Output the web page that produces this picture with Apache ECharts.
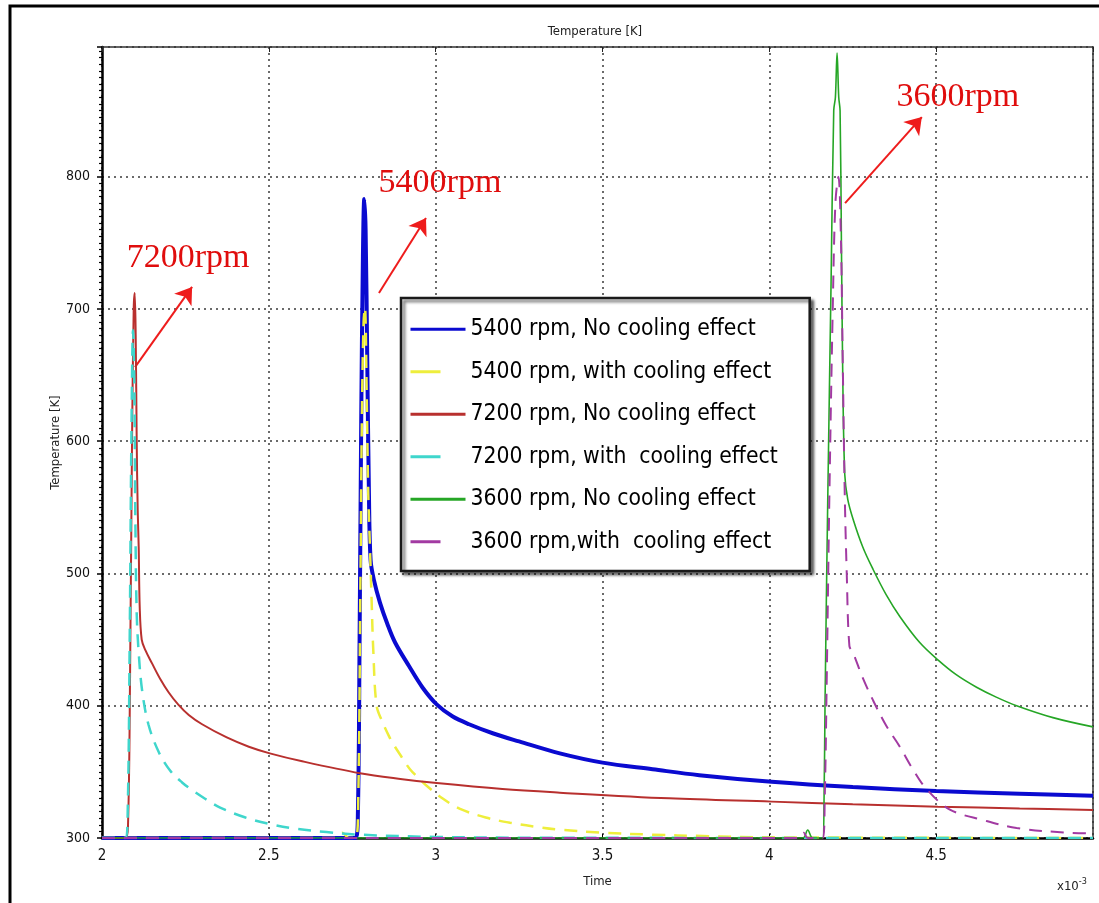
<!DOCTYPE html>
<html>
<head>
<meta charset="utf-8">
<title>Temperature [K]</title>
<script src="https://cdn.jsdelivr.net/npm/echarts@6/dist/echarts.min.js"></script>
<style>
  html, body { margin: 0; padding: 0; background: #fff; }
  #chart { width: 1099px; height: 903px; }
</style>
</head>
<body>
<div id="chart"></div>
<script>
// Time axis in units of 1e-3 s, temperature in K.
const xTicks = [2, 2.5, 3, 3.5, 4, 4.5];
const yTicks = [300, 400, 500, 600, 700, 800];

const seriesNames = [
  '5400 rpm, No cooling effect',
  '5400 rpm, with cooling effect',
  '7200 rpm, No cooling effect',
  '7200 rpm, with  cooling effect',
  '3600 rpm, No cooling effect',
  '3600 rpm,with  cooling effect'
];

// 5400 rpm, no cooling
const t5400NoCool = [2.0, 2.76, 2.767, 2.772, 2.777, 2.782, 2.786, 2.79, 2.795, 2.8, 2.805, 2.815, 2.833, 2.855, 2.878, 2.92, 2.96, 3.003, 3.05, 3.1, 3.173, 3.25, 3.372, 3.5, 3.65, 3.79, 4.007, 4.25, 4.5, 4.75, 4.97];
const T5400NoCool = [300, 300, 320, 450, 620, 740, 783, 760, 660, 560, 510, 495, 478, 462, 448, 430, 414, 401, 392, 386, 379, 373, 364, 357, 352, 347.5, 342.5, 338.5, 335.5, 333.5, 332];

// 5400 rpm, with cooling
const t5400Cool = [2.0, 2.7, 2.72, 2.74, 2.76, 2.768, 2.774, 2.779, 2.784, 2.788, 2.793, 2.798, 2.803, 2.808, 2.813, 2.823, 2.84, 2.86, 2.873, 2.9, 2.923, 2.95, 2.973, 3.02, 3.073, 3.15, 3.223, 3.3, 3.372, 3.5, 3.65, 3.8, 4.0, 4.97];
const T5400Cool = [300, 300, 304, 300, 300, 330, 480, 620, 690, 701, 640, 560, 520, 480, 442, 400, 388, 377, 371, 360.5, 352, 345, 339.5, 330, 322, 315.5, 311.5, 308.5, 306.3, 304, 302.5, 301.5, 300.5, 300];

// 7200 rpm, no cooling
const t7200NoCool = [2.0, 2.07, 2.078, 2.084, 2.09, 2.095, 2.098, 2.101, 2.104, 2.107, 2.11, 2.113, 2.119, 2.13, 2.15, 2.175, 2.2, 2.228, 2.26, 2.3, 2.374, 2.44, 2.503, 2.6, 2.773, 2.9, 3.003, 3.2, 3.372, 3.7, 4.007, 4.25, 4.505, 4.75, 4.97];
const T7200NoCool = [300, 300, 310, 420, 600, 700, 712, 680, 600, 548, 520, 475, 450, 442, 432, 420, 410, 401, 393, 386, 376, 369, 364, 358, 349, 344.5, 341.5, 337, 334.3, 330, 327.5, 325.5, 323.7, 322.3, 321.2];

// 7200 rpm, with cooling
const t7200Cool = [2.0, 2.07, 2.077, 2.083, 2.088, 2.093, 2.097, 2.1, 2.104, 2.11, 2.12, 2.139, 2.17, 2.204, 2.24, 2.274, 2.31, 2.354, 2.43, 2.503, 2.58, 2.673, 2.773, 3.0, 3.3, 4.97];
const T7200Cool = [300, 300, 320, 450, 600, 684, 640, 540, 470, 440, 412, 386, 365, 351, 342, 335.5, 329.5, 323, 315.5, 310.5, 307, 304.5, 302.5, 300.8, 300.2, 300];

// 3600 rpm, no cooling
const t3600NoCool = [2.0, 4.1, 4.115, 4.13, 4.16, 4.164, 4.167, 4.175, 4.185, 4.193, 4.198, 4.203, 4.208, 4.212, 4.216, 4.22, 4.226, 4.235, 4.251, 4.28, 4.311, 4.35, 4.391, 4.45, 4.506, 4.56, 4.621, 4.68, 4.741, 4.85, 4.97];
const T3600NoCool = [300, 300, 306, 300, 300, 330, 404, 555, 720, 850, 860, 893.5, 860, 850, 750, 650, 575, 556, 541, 520, 503, 484, 467.5, 448, 434.5, 423.5, 414, 406.5, 400, 391, 384];

// 3600 rpm, with cooling
const t3600Cool = [2.0, 4.09, 4.103, 4.115, 4.16, 4.166, 4.172, 4.18, 4.19, 4.198, 4.207, 4.214, 4.22, 4.226, 4.232, 4.24, 4.251, 4.28, 4.311, 4.35, 4.391, 4.43, 4.471, 4.541, 4.641, 4.741, 4.891, 4.97];
const T3600Cool = [300, 300, 304, 300, 300, 330, 420, 560, 700, 780, 800, 760, 660, 560, 500, 445, 440, 421, 404, 385, 369, 352, 337, 321.5, 313.5, 307.5, 304, 303.5];

// Speed annotations (data coordinates)
const noteTexts = ['7200rpm', '5400rpm', '3600rpm'];
const noteTextAt = [[2.258, 738.5], [3.013, 795], [4.565, 860]];
const noteArrowFrom = [[2.099, 656], [2.830, 712], [4.227, 780]];
const noteArrowTo = [[2.270, 716.6], [2.971, 768.7], [4.457, 845]];

const zip = (t, v) => t.map((x, i) => [x, v[i]]);

const styles = [
  { color: '#0a0ad0', width: 4, type: 'solid' },
  { color: '#eeee3c', width: 2.5, type: [13, 9] },
  { color: '#b8302e', width: 2, type: 'solid' },
  { color: '#3fd6cc', width: 2.5, type: [13, 9] },
  { color: '#26a626', width: 1.6, type: 'solid' },
  { color: '#a23aa2', width: 2, type: [13, 9] }
];
const dataSets = [
  zip(t5400NoCool, T5400NoCool),
  zip(t5400Cool, T5400Cool),
  zip(t7200NoCool, T7200NoCool),
  zip(t7200Cool, T7200Cool),
  zip(t3600NoCool, T3600NoCool),
  zip(t3600Cool, T3600Cool)
];

const condensed = "'Liberation Sans Narrow', 'DejaVu Sans Condensed', sans-serif";

const series = seriesNames.map((name, i) => ({
  name,
  type: 'line',
  data: dataSets[i],
  symbol: 'none',
  showSymbol: false,
  smooth: 0.35,
  color: styles[i].color,
  lineStyle: { color: styles[i].color, width: styles[i].width, type: styles[i].type },
  z: 3 + i
}));

// Annotation arrows and labels ride on a helper series so they use the same axes.
series.push({
  name: 'notes',
  type: 'line',
  data: [],
  silent: true,
  z: 20,
  markLine: {
    silent: true,
    animation: false,
    symbol: ['none', 'arrow'],
    symbolSize: 16,
    label: { show: false },
    lineStyle: { color: '#ee1c1c', width: 2, type: 'solid' },
    data: noteArrowFrom.map((p, i) => [{ coord: p }, { coord: noteArrowTo[i] }])
  },
  markPoint: {
    silent: true,
    animation: false,
    symbol: 'rect',
    symbolSize: 1,
    itemStyle: { color: 'rgba(0,0,0,0)' },
    label: {
      show: true,
      position: 'inside',
      color: '#e00d0d',
      fontSize: 34,
      fontFamily: "'Liberation Serif', 'DejaVu Serif', serif",
      formatter: p => p.name
    },
    data: noteTexts.map((s, i) => ({ name: s, coord: noteTextAt[i] }))
  }
});

const dotted = { type: [2, 4], color: '#3a3a3a', width: 1.5 };

const option = {
  animation: false,
  backgroundColor: '#ffffff',
  grid: { left: 102, right: 6, top: 47, bottom: 65, show: false },
  legend: {
    orient: 'vertical',
    left: 401,
    top: 298,
    itemWidth: 55,
    itemHeight: 12,
    itemGap: 0,
    padding: [10, 32, 8, 8],
    backgroundColor: '#ffffff',
    borderColor: '#1a1a1a',
    borderWidth: 2.5,
    shadowColor: 'rgba(0,0,0,0.55)',
    shadowBlur: 3,
    shadowOffsetX: 3,
    shadowOffsetY: 3,
    selectedMode: false,
    itemStyle: { opacity: 0 },
    textStyle: { fontFamily: condensed, fontSize: 22.7, color: '#000', lineHeight: 42.5 },
    data: seriesNames.map((n, i) => ({
      name: n,
      itemStyle: { opacity: 0 },
      lineStyle: styles[i].type === 'solid'
        ? { width: 3 }
        : { width: 3, type: [30, 60] }
    }))
  },
  xAxis: [
    {
      type: 'value', min: 2, max: 4.97, interval: 0.5,
      name: 'Time', nameLocation: 'middle', nameGap: 37, nameMoveOverlap: false,
      nameTextStyle: { fontFamily: condensed, fontSize: 13, color: '#222' },
      axisLine: { show: true, onZero: false, lineStyle: { color: '#000', width: 2.5 } },
      axisTick: { show: true, inside: true, length: 4, lineStyle: { color: '#000' } },
      axisLabel: {
        margin: 11, fontSize: 15, color: '#111', fontFamily: condensed,
        showMaxLabel: false,
        formatter: v => (xTicks.some(t => Math.abs(t - v) < 1e-6) ? String(v) : '')
      },
      splitLine: { show: true, lineStyle: dotted }
    },
    {
      type: 'value', min: 2, max: 4.97, interval: 0.5, position: 'top',
      axisLine: { show: true, onZero: false, lineStyle: { color: '#333', width: 1.5 } },
      axisTick: { show: true, inside: true, length: 5, lineStyle: { color: '#222' } },
      axisLabel: { show: false },
      splitLine: { show: false }
    }
  ],
  yAxis: [
    {
      type: 'value', min: 300, max: 898, interval: 100,
      name: 'Temperature [K]', nameLocation: 'middle', nameGap: 40, nameMoveOverlap: false,
      nameTextStyle: { fontFamily: condensed, fontSize: 13, color: '#222' },
      axisLine: { show: true, onZero: false, lineStyle: { color: '#000', width: 2.5 } },
      axisTick: { show: true, inside: false, length: 5, lineStyle: { color: '#000', width: 1.5 } },
      minorTick: { show: true, splitNumber: 20, length: 3, lineStyle: { color: '#000', width: 1.2 } },
      axisLabel: {
        margin: 12, fontSize: 14, color: '#111', fontFamily: condensed,
        showMaxLabel: false,
        formatter: v => (yTicks.includes(v) ? String(v) : '')
      },
      splitLine: { show: true, lineStyle: dotted }
    },
    {
      type: 'value', min: 300, max: 898, interval: 100, position: 'right',
      axisLine: { show: true, onZero: false, lineStyle: { color: '#333', width: 1.5 } },
      axisTick: { show: false },
      axisLabel: { show: false },
      splitLine: { show: false }
    }
  ],
  series,
  graphic: [
    {
      type: 'rect', silent: true, z: 100,
      shape: { x: 10, y: 6, width: 1200, height: 1000 },
      style: { fill: 'none', stroke: '#000', lineWidth: 3 }
    },
    {
      type: 'text', silent: true, z: 100,
      x: 595, y: 32,
      style: {
        text: 'Temperature [K]', fill: '#222', fontSize: 13, fontFamily: condensed,
        textAlign: 'center', textVerticalAlign: 'middle'
      }
    },
    {
      type: 'text', silent: true, z: 100,
      x: 1057, y: 887,
      style: {
        text: '{b|x10}{s|-3}', textVerticalAlign: 'middle',
        rich: {
          b: { fontSize: 13, fill: '#222', fontFamily: condensed },
          s: { fontSize: 9, fill: '#222', fontFamily: condensed, verticalAlign: 'top', padding: [0, 0, 10, 0] }
        }
      }
    }
  ]
};

const chart = echarts.init(document.getElementById('chart'), null, { renderer: 'canvas' });
chart.setOption(option);
</script>
</body>
</html>
